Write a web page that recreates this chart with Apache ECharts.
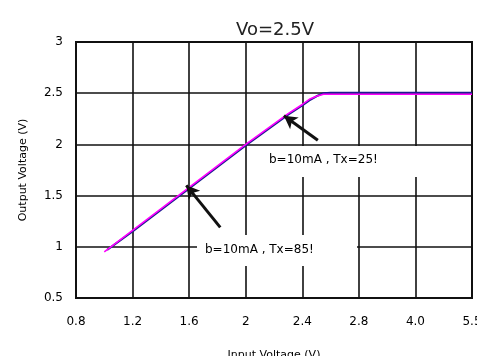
<!DOCTYPE html>
<html>
<head>
<meta charset="utf-8">
<script src="https://cdn.jsdelivr.net/npm/echarts@6/dist/echarts.min.js"></script>
<style>
  html, body { margin: 0; padding: 0; background: #fff; }
  #chart { width: 477px; height: 356px; }
</style>
</head>
<body>
<div id="chart"></div>
<script>
// Input-voltage tick labels (the scale is piecewise: equal spacing between ticks)
const tickLabels = ['0.8', '1.2', '1.6', '2', '2.4', '2.8', '4.0', '5.5'];
const tickValues = [0.8, 1.2, 1.6, 2.0, 2.4, 2.8, 4.0, 5.5];

// Ta = 25 curve
const vin25  = [1.0, 1.2, 1.4, 1.6, 1.8, 2.0, 2.2, 2.3, 2.4, 2.45, 2.5, 2.55, 2.6, 2.8, 4.0, 5.5];
const vout25 = [0.95, 1.16, 1.37, 1.58, 1.79, 2.0, 2.2, 2.3, 2.39, 2.44, 2.47, 2.49, 2.49, 2.49, 2.49, 2.49];

// Ta = 85 curve
const vin85  = [1.02, 1.2, 1.4, 1.6, 1.8, 2.0, 2.2, 2.3, 2.4, 2.45, 2.5, 2.55, 2.6, 2.8, 4.0, 5.5];
const vout85 = [0.97, 1.15, 1.36, 1.57, 1.78, 1.99, 2.19, 2.29, 2.38, 2.43, 2.47, 2.5, 2.505, 2.505, 2.505, 2.505];

const yTicks = [0.5, 1, 1.5, 2, 2.5, 3];

// Annotation arrows: [tail, head] as [Vin, Vout]
const arrow25 = [[2.51, 2.04], [2.27, 2.28]];
const arrow85 = [[1.82, 1.19], [1.58, 1.60]];
const label25 = 'b=10mA , Tx=25!';
const label85 = 'b=10mA , Tx=85!';

// Map an input voltage onto the evenly spaced tick positions
function vinToPos(v) {
  for (let i = 0; i < tickValues.length - 1; i++) {
    const a = tickValues[i], b = tickValues[i + 1];
    if (v <= b || i === tickValues.length - 2) {
      return i + (v - a) / (b - a);
    }
  }
  return tickValues.length - 1;
}
const toPoints = (xs, ys) => xs.map((x, i) => [vinToPos(x), ys[i]]);
const arrowLine = a => [
  { coord: [vinToPos(a[0][0]), a[0][1]], symbol: 'none' },
  { coord: [vinToPos(a[1][0]), a[1][1]], symbol: 'arrow' }
];

const chart = echarts.init(document.getElementById('chart'), null, { renderer: 'canvas' });
const FONT = 'DejaVu Sans';

chart.setOption({
  animation: false,
  backgroundColor: '#fff',
  title: {
    text: 'Vo=2.5V',
    left: 270,
    textAlign: 'center',
    top: 16,
    textStyle: { fontFamily: FONT, fontSize: 18, fontWeight: 'normal', color: '#222' }
  },
  grid: {
    left: 76, right: 5, top: 42, bottom: 58,
    outerBoundsMode: 'none',
    containLabel: false,
    show: true, borderColor: '#111', borderWidth: 2
  },
  xAxis: {
    type: 'value',
    min: 0, max: tickLabels.length - 1, interval: 1,
    name: 'Input Voltage (V)',
    nameLocation: 'middle',
    nameGap: 52,
    nameTextStyle: { fontFamily: FONT, fontSize: 11, color: '#000' },
    axisLine: { show: true, lineStyle: { color: '#111', width: 2 } },
    axisTick: { show: false },
    axisLabel: {
      margin: 18,
      fontFamily: FONT, fontSize: 12, color: '#000',
      formatter: v => tickLabels[Math.round(v)]
    },
    splitLine: { show: true, lineStyle: { color: '#111', width: 1.6 } }
  },
  yAxis: {
    type: 'value',
    min: yTicks[0], max: yTicks[yTicks.length - 1], interval: 0.5,
    name: 'Output Voltage (V)',
    nameLocation: 'middle',
    nameGap: 47,
    nameRotate: 90,
    nameTextStyle: { fontFamily: FONT, fontSize: 11, color: '#000' },
    axisLine: { show: true, lineStyle: { color: '#111', width: 2 } },
    axisTick: { show: false },
    axisLabel: {
      margin: 13,
      fontFamily: FONT, fontSize: 12, color: '#000',
      formatter: v => String(v)
    },
    splitLine: { show: true, lineStyle: { color: '#111', width: 1.6 } }
  },
  series: [
    {
      name: 'Ta=85',
      type: 'line',
      data: toPoints(vin85, vout85),
      showSymbol: false,
      lineStyle: { color: '#1c1c90', width: 2 },
      z: 3
    },
    {
      name: 'Ta=25',
      type: 'line',
      data: toPoints(vin25, vout25),
      showSymbol: false,
      lineStyle: { color: '#ff00ff', width: 1.6 },
      z: 4,
      markLine: {
        silent: true,
        symbolSize: [11, 13],
        label: { show: false },
        lineStyle: { color: '#111', width: 3, type: 'solid' },
        data: [arrowLine(arrow25), arrowLine(arrow85)]
      }
    }
  ],
  graphic: [
    { type: 'rect', shape: { x: 248, y: 146, width: 222, height: 31 }, style: { fill: '#fff' }, z: 10 },
    { type: 'text', x: 269, y: 160, style: { text: label25, fontFamily: FONT, fontSize: 12, fill: '#000', textVerticalAlign: 'middle' }, z: 11 },
    { type: 'rect', shape: { x: 197, y: 235, width: 160, height: 31 }, style: { fill: '#fff' }, z: 10 },
    { type: 'text', x: 205, y: 250, style: { text: label85, fontFamily: FONT, fontSize: 12, fill: '#000', textVerticalAlign: 'middle' }, z: 11 }
  ]
});
</script>
</body>
</html>
